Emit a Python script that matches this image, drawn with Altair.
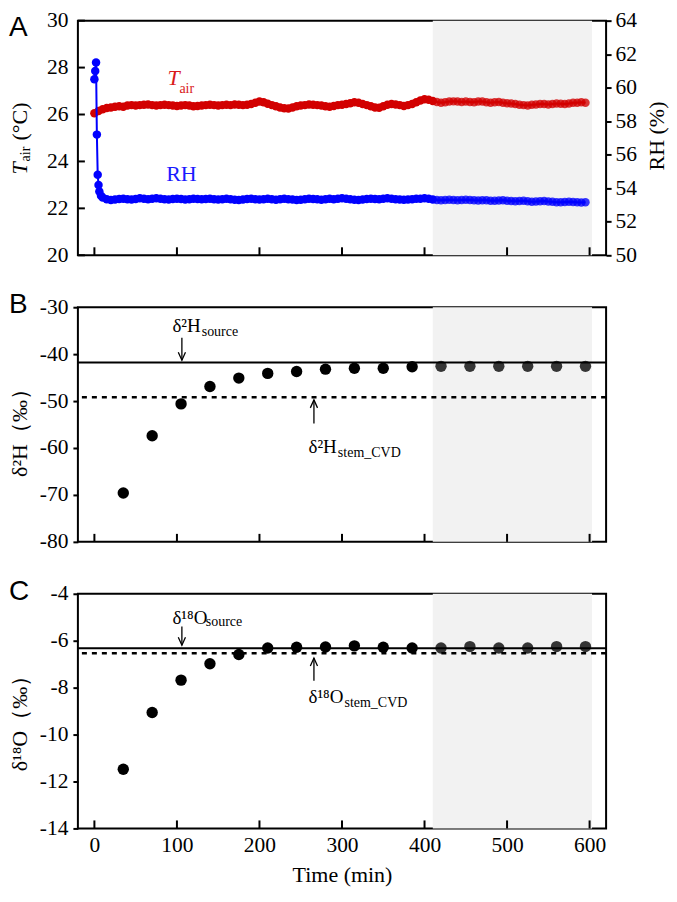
import altair as alt
import pandas as pd

# ---------------- data ----------------
tair_time = [0, 5, 10, 15, 20, 25, 30, 35, 40, 45, 50, 55, 60, 65, 70, 75, 80, 85, 90, 95,
             100, 105, 110, 115, 120, 125, 130, 135, 140, 145, 150, 155, 160, 165, 170, 175, 180, 185, 190, 195,
             200, 205, 210, 215, 220, 225, 230, 235, 240, 245, 250, 255, 260, 265, 270, 275, 280, 285, 290, 295,
             300, 305, 310, 315, 320, 325, 330, 335, 340, 345, 350, 355, 360, 365, 370, 375, 380, 385, 390, 395,
             400, 405, 410, 415, 420, 425, 430, 435, 440, 445, 450, 455, 460, 465, 470, 475, 480, 485, 490, 495,
             500, 505, 510, 515, 520, 525, 530, 535, 540, 545, 550, 555, 560, 565, 570, 575, 580, 585, 590, 595]
tair_vals = [26.05, 26.15, 26.22, 26.28, 26.30, 26.33, 26.35, 26.33, 26.38, 26.40, 26.38, 26.40, 26.42, 26.43, 26.40, 26.38, 26.40, 26.42, 26.40, 26.38,
             26.36, 26.38, 26.40, 26.38, 26.35, 26.36, 26.38, 26.40, 26.42, 26.40, 26.38, 26.40, 26.42, 26.40, 26.43, 26.42, 26.40, 26.42, 26.45, 26.50,
             26.55, 26.52, 26.46, 26.40, 26.35, 26.30, 26.27, 26.26, 26.30, 26.35, 26.38, 26.40, 26.43, 26.42, 26.40, 26.38, 26.35, 26.33, 26.36, 26.40,
             26.42, 26.45, 26.48, 26.52, 26.50, 26.45, 26.40, 26.35, 26.30, 26.29, 26.35, 26.42, 26.45, 26.43, 26.40, 26.36, 26.40, 26.45, 26.52, 26.60,
             26.65, 26.63, 26.58, 26.53, 26.50, 26.52, 26.55, 26.56, 26.55, 26.53, 26.55, 26.53, 26.52, 26.55, 26.55, 26.52, 26.50, 26.52, 26.53, 26.50,
             26.48, 26.47, 26.45, 26.42, 26.40, 26.38, 26.42, 26.43, 26.45, 26.45, 26.43, 26.45, 26.47, 26.46, 26.45, 26.47, 26.50, 26.50, 26.52, 26.50]

rh_time = [0, 1, 2, 3, 4, 5, 6, 8,
           10, 15, 20, 25, 30, 35, 40, 45, 50, 55, 60, 65, 70, 75, 80, 85, 90, 95,
           100, 105, 110, 115, 120, 125, 130, 135, 140, 145, 150, 155, 160, 165, 170, 175, 180, 185, 190, 195,
           200, 205, 210, 215, 220, 225, 230, 235, 240, 245, 250, 255, 260, 265, 270, 275, 280, 285, 290, 295,
           300, 305, 310, 315, 320, 325, 330, 335, 340, 345, 350, 355, 360, 365, 370, 375, 380, 385, 390, 395,
           400, 405, 410, 415, 420, 425, 430, 435, 440, 445, 450, 455, 460, 465, 470, 475, 480, 485, 490, 495,
           500, 505, 510, 515, 520, 525, 530, 535, 540, 545, 550, 555, 560, 565, 570, 575, 580, 585, 590, 595]
rh_vals = [60.5, 61.0, 61.5, 57.2, 54.8, 54.2, 53.8, 53.55,
           53.45, 53.35, 53.30, 53.33, 53.36, 53.38, 53.35, 53.33, 53.36, 53.40, 53.38, 53.35, 53.37, 53.40, 53.38, 53.35, 53.33, 53.36,
           53.38, 53.36, 53.33, 53.35, 53.38, 53.36, 53.34, 53.36, 53.38, 53.35, 53.33, 53.35, 53.37, 53.35, 53.32, 53.30, 53.33, 53.36, 53.38, 53.35,
           53.33, 53.35, 53.37, 53.35, 53.32, 53.34, 53.37, 53.35, 53.33, 53.30, 53.32, 53.35, 53.38, 53.36, 53.34, 53.32, 53.35, 53.37, 53.35, 53.38,
           53.40, 53.37, 53.35, 53.32, 53.30, 53.33, 53.36, 53.38, 53.36, 53.34, 53.37, 53.40, 53.38, 53.35, 53.33, 53.31, 53.33, 53.35, 53.37, 53.38,
           53.40, 53.38, 53.33, 53.30, 53.28, 53.30, 53.32, 53.30, 53.28, 53.30, 53.32, 53.30, 53.28, 53.27, 53.29, 53.28, 53.26, 53.25, 53.27, 53.28,
           53.26, 53.24, 53.22, 53.24, 53.25, 53.22, 53.20, 53.21, 53.23, 53.24, 53.21, 53.19, 53.17, 53.16, 53.18, 53.20, 53.18, 53.16, 53.15, 53.17]

iso_time = [35, 70, 105, 140, 175, 210, 245, 280, 315, 350, 385, 420, 455, 490, 525, 560, 595]
d2h_vals = [-69.6, -57.4, -50.6, -46.9, -45.1, -44.1, -43.7, -43.2, -43.0, -43.0, -42.7,
            -42.6, -42.6, -42.6, -42.6, -42.6, -42.6]
d18o_vals = [-11.48, -9.06, -7.68, -6.98, -6.59, -6.31, -6.28, -6.27, -6.22, -6.28, -6.31,
             -6.31, -6.25, -6.31, -6.31, -6.25, -6.25]

d2h_source, d2h_stem = -41.8, -49.2
d18o_source, d18o_stem = -6.32, -6.53

x_ticks = [0, 100, 200, 300, 400, 500, 600]
tair_ticks = [20, 22, 24, 26, 28, 30]
rh_ticks = [50, 52, 54, 56, 58, 60, 62, 64]
d2h_ticks = [-80, -70, -60, -50, -40, -30]
d18o_ticks = [-14, -12, -10, -8, -6, -4]
shade_start, shade_end = 410, 603

# annotation anchors (data coordinates)
b_main = pd.DataFrame({"t": [94.5, 259.4], "v": [-35.25, -61.1], "s": ["δ²H", "δ²H"]})
b_sub = pd.DataFrame({"t": [130, 295], "v": [-36.1, -61.9], "s": ["source", "stem_CVD"]})
b_down = pd.DataFrame({"t": [106], "v1": [-36.5], "v2": [-41.3]})
b_up = pd.DataFrame({"t": [266], "v1": [-54.8], "v2": [-49.75]})
c_main = pd.DataFrame({"t": [94.5, 259.4], "v": [-5.29, -8.64], "s": ["δ¹⁸O", "δ¹⁸O"]})
c_sub = pd.DataFrame({"t": [135, 303], "v": [-5.38, -8.81], "s": ["source", "stem_CVD"]})
c_down = pd.DataFrame({"t": [106], "v1": [-5.39], "v2": [-6.19]})
c_up = pd.DataFrame({"t": [266], "v1": [-7.71], "v2": [-6.74]})

# ---------------- style ----------------
W, H = 529, 235
FONT = "Liberation Serif"
SANS = "Liberation Sans"
RED = "#d20000"
BLUE = "#0000ff"
HYPHEN = "replace(datum.label, '\u2212', '-')"
xscale = alt.Scale(domain=[-20, 620], nice=False, zero=False)
one = pd.DataFrame({"a": [0]})
op = alt.condition(alt.datum.t > shade_start, alt.value(0.78), alt.value(1.0))


def X(axis=None, field="t:Q"):
    return alt.X(field, scale=xscale, axis=axis)


def shade(xaxis=None):
    return alt.Chart(pd.DataFrame({"t": [shade_start], "t2": [shade_end]})).mark_rect(
        color="#f2f2f2").encode(x=X(xaxis), x2="t2:Q", y=alt.value(0), y2=alt.value(H))


def xticks(xaxis=None):
    return alt.Chart(pd.DataFrame({"t": x_ticks})).mark_rule(color="black", strokeWidth=2).encode(
        x=X(xaxis), y=alt.value(H), y2=alt.value(H - 8))


def label(txt, x, y, size, font=FONT, angle=0, align="left", baseline="alphabetic", style="normal", color="black"):
    return alt.Chart(one).mark_text(text=txt, font=font, fontSize=size, angle=angle, align=align,
                                    baseline=baseline, fontStyle=style, color=color).encode(
        x=alt.value(x), y=alt.value(y))


# ---------------- panel A ----------------
yl_scale = alt.Scale(domain=[20, 30], nice=False, zero=False)
yl_axis = alt.Axis(values=tair_ticks, ticks=False, tickSize=0, labelPadding=10, title=None, domain=False,
                   grid=False, labelFont=FONT, labelFontSize=21.5)
yr_scale = alt.Scale(domain=[50, 64], nice=False, zero=False)
yr_axis = alt.Axis(orient="right", values=rh_ticks, tickSize=5, tickWidth=2, labelPadding=4, title=None,
                   domain=False, grid=False, labelFont=FONT, labelFontSize=21.5)

dfT = pd.DataFrame({"t": tair_time, "v": tair_vals})
dfR = pd.DataFrame({"t": rh_time, "v": rh_vals})
YL = alt.Y("v:Q", scale=yl_scale, axis=yl_axis)
YR = alt.Y("v:Q", scale=yr_scale, axis=yr_axis)

left = alt.layer(
    alt.Chart(pd.DataFrame({"v": tair_ticks})).mark_rule(color="black", strokeWidth=2).encode(
        x=alt.value(0), x2=alt.value(7), y=YL),
    alt.Chart(dfT).mark_line(color=RED, strokeWidth=2).encode(x=X(), y=YL),
    alt.Chart(dfT).mark_circle(color=RED, size=72).encode(x=X(), y=YL, opacity=op),
    alt.Chart(pd.DataFrame({"t": [88.5], "v": [27.27], "s": ["T"]})).mark_text(
        font=FONT, fontSize=22, fontStyle="italic", color="#d91a1a", align="left", baseline="alphabetic").encode(
        x=X(), y=YL, text="s:N"),
    alt.Chart(pd.DataFrame({"t": [103], "v": [26.93], "s": ["air"]})).mark_text(
        font=FONT, fontSize=14, color="#d91a1a", align="left", baseline="alphabetic").encode(
        x=X(), y=YL, text="s:N"),
    alt.Chart(pd.DataFrame({"t": [87], "v": [23.15], "s": ["RH"]})).mark_text(
        font=FONT, fontSize=22, color="#1a1aff", align="left", baseline="alphabetic").encode(
        x=X(), y=YL, text="s:N"),
)
right = alt.layer(
    alt.Chart(dfR).mark_line(color=BLUE, strokeWidth=2).encode(x=X(), y=YR),
    alt.Chart(dfR).mark_circle(color=BLUE, size=72).encode(x=X(), y=YR, opacity=op),
)
panelA = alt.layer(
    shade(), xticks(), left, right,
    label("A", -69, 15, 28, font=SANS),
    label("T", -58, 154, 22, angle=270, baseline="middle", style="italic"),
    label("air", -52, 141, 14, angle=270, baseline="middle"),
    label("(°C)", -58, 120, 22, angle=270, baseline="middle"),
    label("RH (%)", W + 51, H / 2 - 2, 22, angle=270, align="center", baseline="middle"),
).resolve_scale(y="independent").properties(width=W, height=H)


# ---------------- panels B, C ----------------
def iso_panel(letter, title, title_dy, vals, ticks, dom, src, stem, main, sub, down, up, xaxis=None):
    ysc = alt.Scale(domain=dom, nice=False, zero=False)
    yax = alt.Axis(values=ticks, tickSize=5, tickWidth=2, labelPadding=5, title=None, domain=False, grid=False,
                   labelExpr=HYPHEN, labelFont=FONT, labelFontSize=21.5)

    def Y(field="v:Q"):
        return alt.Y(field, scale=ysc, axis=yax)

    df = pd.DataFrame({"t": iso_time, "v": vals})
    layers = [
        shade(xaxis), xticks(xaxis),
        alt.Chart(pd.DataFrame({"v": [src]})).mark_rule(color="black", strokeWidth=2).encode(y=Y()),
        alt.Chart(pd.DataFrame({"v": [stem]})).mark_rule(color="black", strokeWidth=2.5,
                                                         strokeDash=[5, 5]).encode(y=Y()),
        alt.Chart(df).mark_circle(color="black", size=130).encode(x=X(xaxis), y=Y(), opacity=op),
        alt.Chart(main).mark_text(font=FONT, fontSize=19, align="left", baseline="alphabetic",
                                  color="black").encode(x=X(xaxis), y=Y(), text="s:N"),
        alt.Chart(sub).mark_text(font=FONT, fontSize=14, align="left", baseline="alphabetic",
                                 color="black").encode(x=X(xaxis), y=Y(), text="s:N"),
    ]
    for d, shp in ((down, "M-0.45,-1L0,0L0.45,-1"), (up, "M-0.45,1L0,0L0.45,1")):
        layers.append(alt.Chart(d).mark_rule(color="black", strokeWidth=1.3).encode(
            x=X(xaxis), y=Y("v1:Q"), y2="v2:Q"))
        layers.append(alt.Chart(d).mark_point(shape=shp, filled=False, size=256, strokeWidth=1.3,
                                              color="black", opacity=1).encode(x=X(xaxis), y=Y("v2:Q")))
    layers.append(label(letter, -69, 6, 28, font=SANS))
    layers.append(label(title, -58, H / 2 + title_dy, 22, angle=270, align="center", baseline="middle"))
    return alt.layer(*layers).properties(width=W, height=H)


panelB = iso_panel("B", "δ²H（‰）", 3, d2h_vals, d2h_ticks, [-80, -30], d2h_source, d2h_stem,
                   b_main, b_sub, b_down, b_up)
xc_axis = alt.Axis(values=x_ticks, ticks=False, tickSize=0, labelPadding=6, labelFont=FONT, labelFontSize=21.5,
                   title="Time (min)", titleFont=FONT, titleFontSize=22, titleFontWeight="normal",
                   titlePadding=9, domain=False, grid=False)
panelC = iso_panel("C", "δ¹⁸O（‰）", 7, d18o_vals, d18o_ticks, [-14, -4], d18o_source, d18o_stem,
                   c_main, c_sub, c_down, c_up, xaxis=xc_axis)

chart = alt.vconcat(panelA, panelB, panelC, spacing=52, bounds="flush").properties(
    padding={"left": 0, "top": 0, "right": 0, "bottom": 0}
).configure_view(stroke="black", strokeWidth=2).configure_axis(
    labelFont=FONT, labelFontSize=21.5, labelColor="black", tickColor="black", titleColor="black"
)

chart.save("out.html", embed_options={"renderer": "svg", "actions": False})
